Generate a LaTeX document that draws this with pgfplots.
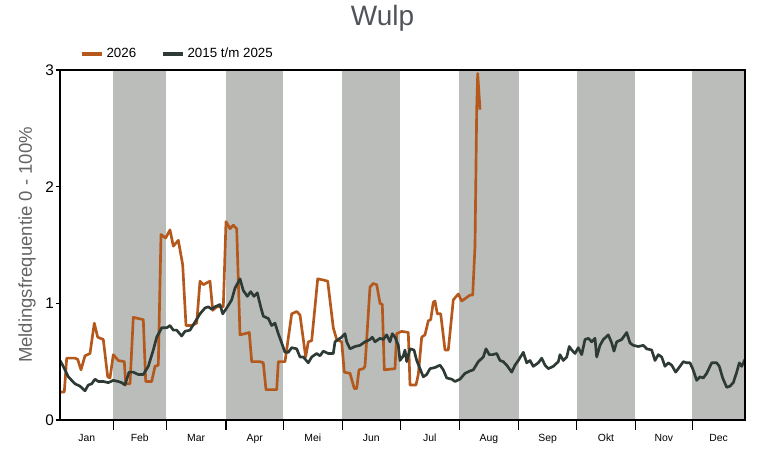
\documentclass[border=0pt]{standalone}
\usepackage{pgfplots}
\pgfplotsset{compat=1.18}
\usepackage{fontspec}
\setmainfont{Liberation Sans}
\definecolor{band}{RGB}{186,189,185}
\definecolor{orng}{RGB}{181,88,27}
\definecolor{dark}{RGB}{45,59,52}
\definecolor{ttl}{RGB}{80,84,90}
\definecolor{ylab}{RGB}{100,100,100}
\begin{document}
\begin{tikzpicture}
\useasboundingbox (-45pt,-22.5pt) rectangle (528.75pt,315pt);
\node[font=\fontsize{21}{24}\selectfont, text=ttl] at (241.9pt,301pt) {Wulp};
\begin{axis}[
  scale only axis,
  width=513.75pt, height=262.5pt,
  xmin=0, xmax=685, ymin=0, ymax=3,
  axis on top,
  axis line style={black, line width=0.8pt},
  ytick={0,1,2,3},
  tick pos=left,
  tick align=outside,
  major tick length=3pt,
  minor tick length=7.5pt,
  tick style={black, line width=0.8pt},
  major x tick style={draw=none},
  xtick={26.7,79.8,136.2,194.7,252.8,311.3,369.8,429,487.7,546,603.8,658.7},
  xticklabels={Jan,Feb,Mar,Apr,Mei,Jun,Jul,Aug,Sep,Okt,Nov,Dec},
  minor xtick={53.3,106.3,166,223.3,282.3,340.3,399.3,458.7,516.7,575.3,632.3},
  xticklabel style={font=\fontsize{7.8}{9}\selectfont, yshift=-4pt},
  yticklabel style={font=\fontsize{11.5}{13}\selectfont, xshift=2pt},
  /pgf/number format/assume math mode=true,
  ylabel={Meldingsfrequentie 0 - 100\%},
  ylabel style={font=\fontsize{13.9}{16}\selectfont, text=ylab, at={(axis description cs:-0.048,0.5)}, anchor=center},
  legend style={at={(axis description cs:0.029,1.046)}, anchor=west, draw=none, fill=none,
    font=\fontsize{10}{12}\selectfont, inner sep=0pt, outer sep=0pt,
    /tikz/every even column/.append style={column sep=16.5pt}},
  legend columns=2,
  legend cell align=left,
  legend image code/.code={\draw[#1, line width=3pt] (0pt,0pt) -- (15pt,0pt);},
]
\fill[band] (axis cs:53.3,0) rectangle (axis cs:106.3,3);
\fill[band] (axis cs:166,0) rectangle (axis cs:223.3,3);
\fill[band] (axis cs:282.3,0) rectangle (axis cs:340.3,3);
\fill[band] (axis cs:399.3,0) rectangle (axis cs:458.7,3);
\fill[band] (axis cs:516.7,0) rectangle (axis cs:575.3,3);
\fill[band] (axis cs:632.3,0) rectangle (axis cs:685,3);
\addplot[orng, line width=2pt, line join=round] coordinates {
(1,0.24) (4.3,0.24) (6.7,0.53) (15,0.53) (17.7,0.52) (21,0.43) (25,0.55) (30,0.57) (34.3,0.83) (37.7,0.71) (43.3,0.69) (47.7,0.37) (50,0.36) (53.3,0.56) (58.3,0.51) (64.3,0.50) (65.7,0.31) (70,0.31) (73.3,0.88) (78.3,0.87) (83.3,0.86) (85.7,0.33) (91.7,0.33) (95,0.46) (98.3,0.47) (101,1.59) (105.7,1.56) (110,1.63) (113.3,1.49) (118.3,1.54) (122.7,1.33) (126,0.81) (131.7,0.81) (136.7,0.83) (140,1.19) (143.3,1.16) (150,1.19) (152.7,0.94) (156.7,0.97) (163.3,0.97) (166,1.70) (170,1.64) (173.3,1.67) (176.7,1.64) (180,0.73) (185,0.74) (189.3,0.75) (191.7,0.50) (200,0.50) (203.3,0.49) (206,0.26) (216.7,0.26) (218.3,0.50) (225,0.50) (231.7,0.91) (236.7,0.93) (240,0.90) (245.7,0.54) (248.3,0.67) (251.7,0.68) (257.7,1.21) (263.3,1.20) (267.7,1.19) (273.3,0.79) (276.7,0.69) (281.7,0.67) (284.3,0.41) (290,0.40) (294.3,0.27) (296.7,0.27) (299,0.43) (303.3,0.44) (305,0.46) (310,1.14) (313.3,1.17) (316.7,1.16) (320,1.00) (322.3,0.99) (324.3,0.43) (335,0.44) (336.7,0.74) (341.7,0.76) (348.3,0.75) (350,0.30) (356,0.30) (358.3,0.39) (361.7,0.71) (365,0.73) (368.3,0.85) (370.7,0.86) (373.3,1.01) (375,1.02) (377.3,0.91) (380.7,0.91) (385,0.60) (388.3,0.60) (393.3,1.03) (398.3,1.08) (401.7,1.02) (410,1.07) (412.7,1.07) (415,1.49) (416.7,2.66) (417.7,2.97) (420,2.66)
};
\addlegendentry{2026}
\addplot[dark, line width=2pt, line join=round] coordinates {
(0,0.51) (3.3,0.46) (8.3,0.37) (11.7,0.34) (15,0.31) (20,0.29) (25,0.25) (28.3,0.30) (31.7,0.31) (35,0.35) (38.3,0.33) (43.3,0.33) (48.3,0.32) (53.3,0.34) (58.3,0.33) (61.7,0.32) (65,0.30) (69,0.41) (73.3,0.41) (78.3,0.39) (83.3,0.39) (88.3,0.46) (93.3,0.60) (96.7,0.71) (101.7,0.79) (106.7,0.79) (110,0.81) (113.3,0.77) (116.7,0.77) (121.7,0.72) (125,0.76) (130,0.77) (135,0.84) (140,0.91) (145,0.96) (148.3,0.97) (151.7,0.95) (155,0.97) (160,0.99) (162.7,0.91) (166.7,0.96) (171.7,1.03) (175,1.13) (180,1.21) (183.3,1.11) (187.3,1.06) (190.7,1.10) (194,1.06) (197.3,1.09) (200.7,0.97) (203.3,0.89) (208.3,0.87) (211.7,0.81) (215,0.83) (218.3,0.74) (221.7,0.66) (225,0.58) (228.3,0.58) (231.7,0.62) (236.7,0.61) (240,0.54) (243.3,0.54) (248.3,0.49) (251.7,0.54) (256.7,0.57) (260,0.55) (263.3,0.59) (268.3,0.57) (273.3,0.57) (275,0.67) (278.3,0.69) (281.7,0.71) (285,0.74) (286.7,0.67) (290,0.61) (295,0.63) (300,0.64) (305,0.67) (310,0.69) (312.3,0.71) (315,0.67) (320,0.70) (323.3,0.69) (326.7,0.73) (330,0.67) (332.3,0.74) (335,0.71) (338.3,0.64) (340,0.51) (343.3,0.55) (345,0.60) (346.7,0.50) (350,0.61) (354,0.60) (356.7,0.51) (360,0.44) (363.3,0.37) (366.7,0.39) (370,0.44) (375,0.45) (380,0.47) (383.3,0.43) (386.7,0.36) (391.7,0.35) (395,0.33) (400,0.35) (405,0.40) (410,0.42) (413.3,0.43) (418.3,0.50) (423.3,0.54) (426,0.61) (429.3,0.56) (432.7,0.56) (436.7,0.57) (440,0.51) (443.3,0.50) (446.7,0.47) (451.7,0.41) (455,0.47) (458.3,0.51) (463.3,0.58) (466.7,0.49) (470,0.51) (473.3,0.46) (478.3,0.49) (481.7,0.53) (485,0.47) (488.3,0.44) (493.3,0.46) (498.3,0.50) (500,0.56) (503.3,0.51) (506.7,0.54) (509.3,0.63) (511.7,0.60) (515,0.57) (518.3,0.62) (521.7,0.56) (525,0.69) (528.3,0.70) (531.7,0.67) (535,0.70) (536.7,0.54) (540,0.64) (543.3,0.69) (548.3,0.73) (551.7,0.66) (554,0.59) (556.7,0.67) (561.7,0.69) (566.7,0.75) (570,0.66) (573.3,0.64) (578.3,0.63) (583.3,0.64) (586.7,0.61) (591.7,0.60) (595,0.51) (598.3,0.56) (601.7,0.54) (605,0.46) (608.3,0.49) (611.7,0.47) (615.7,0.41) (620,0.46) (623.3,0.50) (626.7,0.49) (630,0.49) (632.7,0.44) (636.7,0.34) (640,0.37) (643.3,0.36) (646.7,0.40) (651.7,0.49) (656.7,0.49) (659.3,0.46) (662.7,0.36) (666.7,0.28) (670,0.29) (673.3,0.32) (676.7,0.41) (679.3,0.49) (681.7,0.46) (685,0.52)
};
\addlegendentry{2015 t/m 2025}
\end{axis}
\end{tikzpicture}
\end{document}
